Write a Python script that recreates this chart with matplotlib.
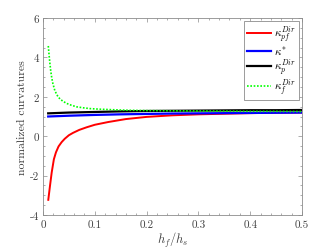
import matplotlib
matplotlib.use('Agg')
import matplotlib.pyplot as plt
from matplotlib.ticker import MultipleLocator

plt.rcParams['font.family'] = ['cmr10', 'DejaVu Serif']
plt.rcParams['mathtext.fontset'] = 'cm'
plt.rcParams['axes.unicode_minus'] = False

# values
x_pf = [0.0102, 0.0135, 0.0168, 0.021, 0.025, 0.030, 0.036, 0.042, 0.050, 0.058,
        0.070, 0.084, 0.100, 0.126, 0.16, 0.20, 0.25, 0.30, 0.35, 0.40, 0.45, 0.50]
k_pf = [-3.23, -2.52, -1.84, -1.17, -0.82, -0.52, -0.30, -0.13, 0.05, 0.17,
        0.32, 0.45, 0.58, 0.72, 0.87, 0.98, 1.06, 1.11, 1.14, 1.17, 1.19, 1.20]

x_f = [0.0102, 0.0120, 0.0135, 0.0150, 0.0168, 0.019, 0.023, 0.028, 0.033, 0.040,
       0.046, 0.055, 0.065, 0.078, 0.091, 0.11, 0.129, 0.16, 0.20, 0.25, 0.30,
       0.35, 0.40, 0.45, 0.50]
k_f = [4.58, 4.05, 3.65, 3.30, 2.98, 2.68, 2.30, 2.05, 1.88, 1.75,
       1.66, 1.57, 1.49, 1.44, 1.40, 1.37, 1.35, 1.32, 1.30, 1.29, 1.28,
       1.27, 1.26, 1.26, 1.25]

x_star = [0.01, 0.05, 0.10, 0.15, 0.20, 0.25, 0.30, 0.35, 0.40, 0.45, 0.50]
k_star = [1.00, 1.04, 1.08, 1.11, 1.13, 1.15, 1.16, 1.17, 1.18, 1.19, 1.20]

x_p = [0.01, 0.05, 0.10, 0.15, 0.20, 0.25, 0.30, 0.35, 0.40, 0.45, 0.50]
k_p = [1.16, 1.20, 1.23, 1.26, 1.28, 1.29, 1.30, 1.31, 1.32, 1.32, 1.33]

fig = plt.figure(figsize=(3.34, 2.51), dpi=100)
ax = fig.add_axes([43/334, 1 - 216/251, (302-43)/334, (216-19)/251])

ax.plot(x_pf, k_pf, color='#ff0000', lw=1.4, label=r'$\kappa_{pf}^{Dir}$')
ax.plot(x_star, k_star, color='#0000ff', lw=1.6, label=r'$\kappa^{*}$')
ax.plot(x_p, k_p, color='black', lw=1.6, label=r'$\kappa_{p}^{Dir}$')
ax.plot(x_f, k_f, color='#00ff00', lw=1.2, ls=(0, (1, 1)), label=r'$\kappa_{f}^{Dir}$')

ax.set_xlim(0, 0.5)
ax.set_ylim(-4, 6)
ax.xaxis.set_major_locator(MultipleLocator(0.1))
ax.xaxis.set_minor_locator(MultipleLocator(0.02))
ax.yaxis.set_major_locator(MultipleLocator(2))
ax.yaxis.set_minor_locator(MultipleLocator(0.5))
ax.xaxis.set_major_formatter(plt.FuncFormatter(lambda v, p: f'{v:g}'))
ax.yaxis.set_major_formatter(plt.FuncFormatter(lambda v, p: f'{v:g}'))

ax.tick_params(which='both', direction='in', top=True, right=True, color='0.55',
               labelsize=8, labelcolor='0.25', pad=3)
ax.tick_params(which='major', length=3, width=0.5)
ax.tick_params(which='minor', length=1.6, width=0.5)
for s in ax.spines.values():
    s.set_color('0.55')
    s.set_linewidth(0.6)

ax.set_xlabel(r'$h_f/h_s$', fontsize=9, color='0.25', labelpad=1)
ax.set_ylabel('normalized curvatures', fontsize=8.5, color='0.25', labelpad=2)

leg = ax.legend(loc='upper right', fontsize=8, handlelength=2.2, handletextpad=0.3,
                labelspacing=0.0, borderpad=0.25, borderaxespad=0.3,
                fancybox=False, framealpha=1)
leg.get_frame().set_edgecolor('0.55')
leg.get_frame().set_linewidth(0.6)

fig.savefig('out.png', dpi=100)
